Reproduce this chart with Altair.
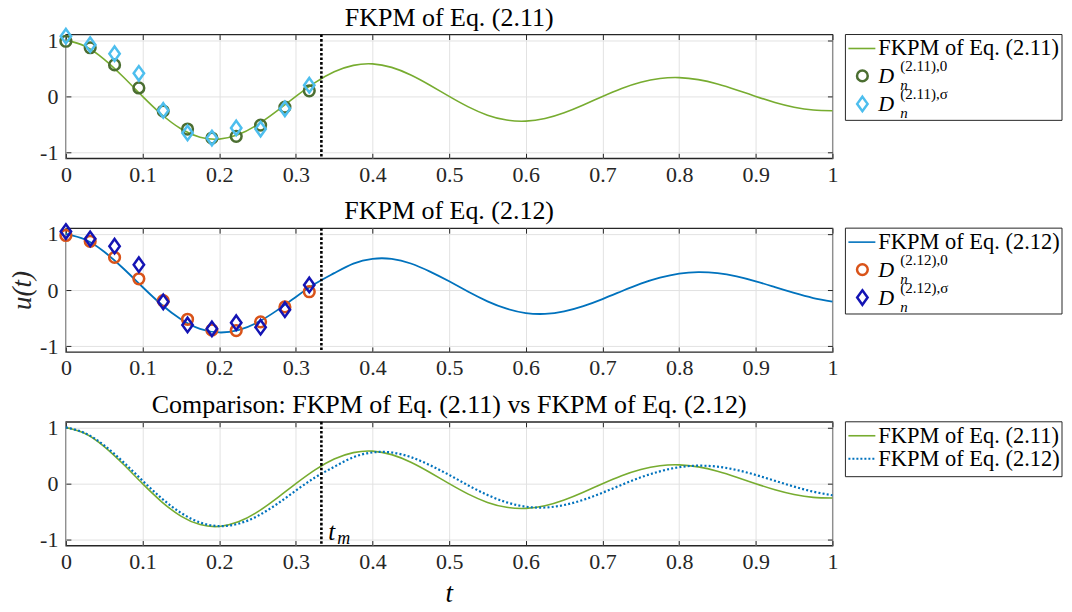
import altair as alt
import pandas as pd

FONT = "Liberation Serif, Times New Roman, DejaVu Serif, serif"
INK = "#262626"

# ---------------- data ----------------
t_line = [0.000, 0.025, 0.050, 0.075, 0.100, 0.125, 0.150, 0.175, 0.200, 0.225,
          0.250, 0.275, 0.300, 0.325, 0.350, 0.375, 0.400, 0.425, 0.450, 0.475,
          0.500, 0.525, 0.550, 0.575, 0.600, 0.625, 0.650, 0.675, 0.700, 0.725,
          0.750, 0.775, 0.800, 0.825, 0.850, 0.875, 0.900, 0.925, 0.950, 0.975, 1.000]
u_211 = [1.000, 0.893, 0.660, 0.345, 0.000, -0.322, -0.576, -0.727, -0.760, -0.679,
         -0.502, -0.262, 0.000, 0.245, 0.437, 0.552, 0.578, 0.516, 0.381, 0.199,
         0.000, -0.186, -0.333, -0.420, -0.439, -0.392, -0.290, -0.152, 0.000, 0.142,
         0.253, 0.319, 0.334, 0.298, 0.220, 0.115, 0.000, -0.108, -0.192, -0.243, -0.254]
u_212 = [1.000, 0.898, 0.680, 0.383, 0.054, -0.261, -0.518, -0.690, -0.754, -0.712,
         -0.575, -0.366, -0.123, 0.110, 0.300, 0.470, 0.555, 0.554, 0.472, 0.328,
         0.155, -0.031, -0.201, -0.332, -0.409, -0.424, -0.380, -0.287, -0.161, -0.021,
         0.113, 0.219, 0.293, 0.320, 0.302, 0.243, 0.155, 0.051, -0.052, -0.142, -0.206]

t_mark = [0.0, 0.0317, 0.0635, 0.0952, 0.1270, 0.1587, 0.1905, 0.2222, 0.2540, 0.2857, 0.3175]
d211_0 = [0.98, 0.865, 0.56, 0.15, -0.26, -0.58, -0.74, -0.71, -0.51, -0.19, 0.10]
d211_s = [1.07, 0.92, 0.76, 0.41, -0.25, -0.65, -0.74, -0.56, -0.58, -0.22, 0.20]
d212_0 = [0.97, 0.865, 0.58, 0.20, -0.19, -0.52, -0.71, -0.72, -0.565, -0.30, -0.03]
d212_s = [1.04, 0.91, 0.78, 0.45, -0.21, -0.62, -0.69, -0.58, -0.66, -0.35, 0.09]

t_m = 0.3333
x_ticks = [0, 0.1, 0.2, 0.3, 0.4, 0.5, 0.6, 0.7, 0.8, 0.9, 1]
y_ticks = [-1, 0, 1]

titles = ["FKPM of Eq. (2.11)", "FKPM of Eq. (2.12)",
          "Comparison: FKPM of Eq. (2.11) vs FKPM of Eq. (2.12)"]
line_label_211 = "FKPM of Eq. (2.11)"
line_label_212 = "FKPM of Eq. (2.12)"

C_211 = "#77AC30"
C_212 = "#0072BD"
C_211_0 = "#4B6E31"
C_211_s = "#4DBEEE"
C_212_0 = "#D95319"
C_212_s = "#1414B4"

W, H = 768, 124
LX0, LX1 = 781, 998
XS = alt.Scale(domain=[0, 1], nice=False, zero=False)
YS = alt.Scale(domain=[-1.1, 1.1], nice=False, zero=False)
DIAMOND = "M0,-1L0.72,0L0,1L-0.72,0Z"
ONE = alt.Data(values=[{"a": 1}])


def main_axes(show_ytitle):
    xa = alt.Axis(values=x_ticks, format="~g", grid=True, ticks=False, domain=False,
                  labelFont=FONT, labelFontSize=22, labelColor=INK, labelPadding=6,
                  labelFlush=False, labelOverlap=False, gridColor="#e2e2e2", gridWidth=1,
                  title=None)
    ya = alt.Axis(values=y_ticks, grid=True, ticks=False, domain=False,
                  labelExpr="datum.value < 0 ? '-' + format(-datum.value, '~g') : format(datum.value, '~g')",
                  labelFont=FONT, labelFontSize=22, labelColor=INK, labelPadding=8,
                  labelFlush=False, labelOverlap=False, gridColor="#e2e2e2", gridWidth=1,
                  title="u(t)", titleFont=FONT, titleFontSize=27, titleFontStyle="italic",
                  titleFontWeight="normal", titleColor=INK, titlePadding=3,
                  titleOpacity=1 if show_ytitle else 0)
    return xa, ya


def tick_axis(orient, vals):
    return alt.Axis(orient=orient, values=vals, labels=False, grid=False, domain=False,
                    ticks=True, tickSize=5, tickColor=INK, tickWidth=1, offset=-5, title=None)


def txt(s, x, y, size, style="normal", align="left"):
    return alt.Chart(ONE).mark_text(text=s, align=align, baseline="alphabetic", font=FONT,
                                    fontSize=size, fontStyle=style, color="black").encode(
        x=alt.value(x), y=alt.value(y))


def legend_box(h):
    return alt.Chart(ONE).mark_rect(fill="white", stroke=INK, strokeWidth=1).encode(
        x=alt.value(LX0), x2=alt.value(LX1), y=alt.value(0), y2=alt.value(h))


def legend_line(color, y, dash=None):
    kw = dict(color=color, strokeWidth=2 if dash else 1.6)
    if dash:
        kw["strokeDash"] = dash
    return alt.Chart(ONE).mark_rule(**kw).encode(
        x=alt.value(784), x2=alt.value(811), y=alt.value(y))


def legend_point(color, shape, size, y):
    return alt.Chart(ONE).mark_point(shape=shape, size=size, filled=False, strokeWidth=2.5,
                                     color=color, opacity=1).encode(x=alt.value(798), y=alt.value(y))


def legend_D(sup, y_base):
    return [txt("D", 814, y_base, 22, "italic"),
            txt("n", 836, y_base + 7, 15, "italic"),
            txt(sup, 836, y_base - 12, 15)]


def line_layer(t, u, color, axes=None, dash=None, width=1.6):
    df = pd.DataFrame({"t": t, "u": u})
    kw = dict(color=color, strokeWidth=width, interpolate="natural")
    if dash:
        kw["strokeDash"] = dash
    if axes:
        xa, ya = axes
    else:
        xa, ya = None, None
    return alt.Chart(df).mark_line(**kw).encode(
        x=alt.X("t:Q", scale=XS, axis=xa), y=alt.Y("u:Q", scale=YS, axis=ya))


def tick_layers(t, u):
    df = pd.DataFrame({"t": t, "u": u})
    a = alt.Chart(df).mark_line(opacity=0).encode(
        x=alt.X("t:Q", scale=XS, axis=tick_axis("bottom", x_ticks)),
        y=alt.Y("u:Q", scale=YS, axis=tick_axis("left", y_ticks)))
    b = alt.Chart(df).mark_line(opacity=0).encode(
        x=alt.X("t:Q", scale=XS, axis=tick_axis("top", x_ticks)),
        y=alt.Y("u:Q", scale=YS, axis=tick_axis("right", y_ticks)))
    return [a, b]


def marker_layer(t, u, color, shape, size):
    df = pd.DataFrame({"t": t, "u": u})
    return alt.Chart(df).mark_point(shape=shape, size=size, filled=False, strokeWidth=2.5,
                                    color=color, opacity=1).encode(
        x=alt.X("t:Q", scale=XS, axis=None), y=alt.Y("u:Q", scale=YS, axis=None))


def tm_rule():
    return alt.Chart(pd.DataFrame({"t": [t_m]})).mark_rule(
        color="black", strokeWidth=2.6, strokeDash=[2.6, 2]).encode(x=alt.X("t:Q", scale=XS, axis=None))


def panel_title(s):
    return txt(s, W / 2, -9, 26, align="center")


def fin(layers):
    return alt.layer(*layers).resolve_axis(x="independent", y="independent").properties(
        width=W, height=H)


# panel 1
p1 = fin([
    line_layer(t_line, u_211, C_211, axes=main_axes(False)),
    marker_layer(t_mark, d211_0, C_211_0, "circle", 115),
    marker_layer(t_mark, d211_s, C_211_s, DIAMOND, 210),
    tm_rule(),
    *tick_layers(t_line, u_211),
    panel_title(titles[0]),
    legend_box(86),
    legend_line(C_211, 14),
    txt(line_label_211, 814, 21, 22.5),
    legend_point(C_211_0, "circle", 115, 41.5),
    *legend_D("(2.11),0", 49),
    legend_point(C_211_s, DIAMOND, 210, 69.5),
    *legend_D("(2.11),σ", 77),
])

p2 = fin([
    line_layer(t_line, u_212, C_212, axes=main_axes(True), width=1.8),
    marker_layer(t_mark, d212_0, C_212_0, "circle", 115),
    marker_layer(t_mark, d212_s, C_212_s, DIAMOND, 210),
    tm_rule(),
    *tick_layers(t_line, u_212),
    panel_title(titles[1]),
    legend_box(86),
    legend_line(C_212, 14),
    txt(line_label_212, 814, 21, 22.5),
    legend_point(C_212_0, "circle", 115, 41.5),
    *legend_D("(2.12),0", 49),
    legend_point(C_212_s, DIAMOND, 210, 69.5),
    *legend_D("(2.12),σ", 77),
])

tm_df = pd.DataFrame({"t": [t_m], "u": [-1.0]})
p3 = fin([
    line_layer(t_line, u_211, C_211, axes=main_axes(False)),
    line_layer(t_line, u_212, C_212, dash=[2, 2.2], width=2.2),
    tm_rule(),
    alt.Chart(tm_df).mark_text(text="t", align="left", baseline="alphabetic", font=FONT,
                               fontSize=25, fontStyle="italic", color="black", dx=7).encode(
        x=alt.X("t:Q", scale=XS, axis=None), y=alt.Y("u:Q", scale=YS, axis=None)),
    alt.Chart(tm_df).mark_text(text="m", align="left", baseline="alphabetic", font=FONT,
                               fontSize=18, fontStyle="italic", color="black", dx=16, dy=4).encode(
        x=alt.X("t:Q", scale=XS, axis=None), y=alt.Y("u:Q", scale=YS, axis=None)),
    *tick_layers(t_line, u_211),
    panel_title(titles[2]),
    legend_box(55),
    legend_line(C_211, 14),
    txt(line_label_211, 814, 21, 22.5),
    legend_line(C_212, 37, dash=[2, 2]),
    txt(line_label_212, 814, 44, 22.5),
    txt("t", W / 2, H + 57, 27, "italic", align="center"),
])

chart = alt.vconcat(p1, p2, p3, spacing=11).properties(
    padding={"left": 0, "top": -5, "right": 0, "bottom": 0}
).configure_view(stroke=INK, strokeWidth=1.3)

chart.save("out.html", embed_options={"renderer": "svg", "actions": False})
